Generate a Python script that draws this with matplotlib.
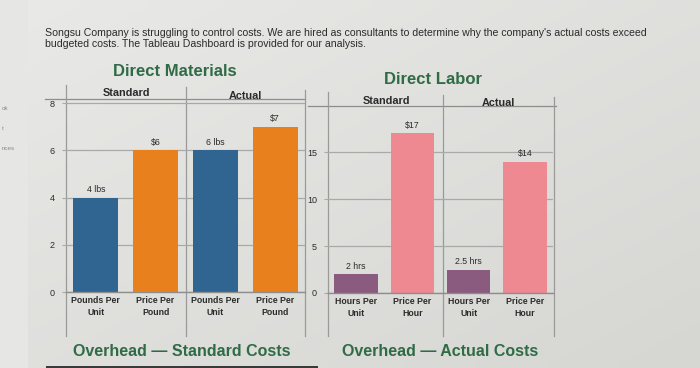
import matplotlib
matplotlib.use('Agg')
import matplotlib.pyplot as plt
import numpy as np

# data
mat_cats = ['Pounds Per\nUnit', 'Price Per\nPound', 'Pounds Per\nUnit', 'Price Per\nPound']
mat_values = [4, 6, 6, 7]
mat_labels = ['4 lbs', '$6', '6 lbs', '$7']
mat_ticks = [0, 2, 4, 6, 8]

lab_cats = ['Hours Per\nUnit', 'Price Per\nHour', 'Hours Per\nUnit', 'Price Per\nHour']
lab_values = [2, 17, 2.5, 14]
lab_labels = ['2 hrs', '$17', '2.5 hrs', '$14']
lab_ticks = [0, 5, 10, 15]

panels = ['Standard', 'Actual']

BG = '#e0e0dd'
GREEN = '#2f6b45'
GRID = '#a9a9a7'
TXT = '#2b2b2b'
FONT = ['Liberation Sans', 'DejaVu Sans']

W, H = 700, 368
fig = plt.figure(figsize=(7, 3.68), dpi=100, facecolor=BG)


def px_rect(x0, y0, x1, y1):
    return [x0 / W, 1 - y1 / H, (x1 - x0) / W, (y1 - y0) / H]


# overlay in pixel coordinates for the dashboard furniture
ov = fig.add_axes([0, 0, 1, 1], zorder=0)
ov.set_xlim(0, W)
ov.set_ylim(H, 0)
ov.axis('off')
# soft lighting of the photographed screen: lighter top-left, darker bottom-right
gy, gx = np.mgrid[0:1:40j, 0:1:70j]
shade = 0.5 * gy + 0.5 * gx
ov.imshow(shade, extent=(0, W, H, 0), cmap=matplotlib.colors.LinearSegmentedColormap.from_list(
    'bg', ['#e9e9e7', '#d6d7d3']), aspect='auto', zorder=0, interpolation='bilinear')
ov.add_patch(plt.Rectangle((0, 0), 28, H, color='#e6e6e4', lw=0, zorder=1))
ov.add_patch(plt.Rectangle((46, 366), 272, 2, color='#3a3a3a', lw=0, zorder=1))
for yy, t in zip([109, 128, 148], ['ok', 't', 'nces']):
    ov.text(2, yy, t, fontsize=4.5, color='#8a8a8a', va='center', family=FONT)

ov.text(45, 33, "Songsu Company is struggling to control costs. We are hired as consultants to determine why the company's actual costs exceed",
        fontsize=7.55, color=TXT, va='center', family=FONT)
ov.text(45, 44, "budgeted costs. The Tableau Dashboard is provided for our analysis.",
        fontsize=7.55, color=TXT, va='center', family=FONT)

ov.text(175, 71, 'Direct Materials', fontsize=12, weight='bold', color=GREEN,
        ha='center', va='center', family=FONT)
ov.text(433, 79, 'Direct Labor', fontsize=12, weight='bold', color=GREEN,
        ha='center', va='center', family=FONT)
ov.text(182, 352, 'Overhead \u2014 Standard Costs', fontsize=11.5, weight='bold', color=GREEN,
        ha='center', va='center', family=FONT)
ov.text(440, 352, 'Overhead \u2014 Actual Costs', fontsize=11.5, weight='bold', color=GREEN,
        ha='center', va='center', family=FONT)

# header rows and panel dividers
ov.plot([45, 305], [99, 99], color='#8d8d8b', lw=0.9)
ov.plot([308, 556], [106, 106], color='#8d8d8b', lw=0.9)
for x, y0 in [(66, 85), (186, 87), (305, 90), (328, 92), (443, 95), (554, 97)]:
    ov.plot([x, x], [y0, 336], color='#9a9a98', lw=0.9)
ov.text(126, 93, panels[0], fontsize=7.8, weight='bold', color=TXT, ha='center', va='center', family=FONT)
ov.text(245, 96, panels[1], fontsize=7.8, weight='bold', color=TXT, ha='center', va='center', family=FONT)
ov.text(386, 101, panels[0], fontsize=7.8, weight='bold', color=TXT, ha='center', va='center', family=FONT)
ov.text(498, 103, panels[1], fontsize=7.8, weight='bold', color=TXT, ha='center', va='center', family=FONT)


def draw_chart(rect, cats, values, labels, colors, ticks, top, width):
    ax = fig.add_axes(rect, zorder=1)
    ax.set_facecolor('none')
    xs = list(range(len(values)))
    ax.bar(xs, values, width=width, color=colors, zorder=2)
    for x, v, lab in zip(xs, values, labels):
        ax.text(x, v + top * 0.02, lab, ha='center', va='bottom', fontsize=6.3,
                color=TXT, family=FONT, zorder=3)
    ax.set_xlim(-0.5, len(values) - 0.5)
    ax.set_ylim(0, top)
    ax.set_yticks(ticks)
    ax.set_yticklabels([str(t) for t in ticks], fontsize=6.5, color=TXT, family=FONT)
    ax.set_xticks(xs)
    ax.set_xticklabels(cats, fontsize=6.3, weight='bold', color=TXT, family=FONT, linespacing=1.45)
    ax.tick_params(axis='x', length=0, pad=3)
    ax.tick_params(axis='y', length=3, color=GRID, pad=5)
    ax.yaxis.grid(True, color=GRID, lw=0.9, zorder=0)
    for s in ['top', 'right', 'left']:
        ax.spines[s].set_visible(False)
    ax.spines['bottom'].set_color('#8d8d8b')
    ax.spines['bottom'].set_linewidth(1.0)
    return ax


draw_chart(px_rect(66, 99, 305, 292), mat_cats, mat_values, mat_labels,
           ['#2f6590', '#e8811d', '#2f6590', '#e8811d'], mat_ticks, 8.18, 0.75)
draw_chart(px_rect(328, 108, 553, 293), lab_cats, lab_values, lab_labels,
           ['#8b5a7f', '#ee8891', '#8b5a7f', '#ee8891'], lab_ticks, 19.7, 0.77)

fig.savefig('out.png', dpi=100, facecolor=BG)
